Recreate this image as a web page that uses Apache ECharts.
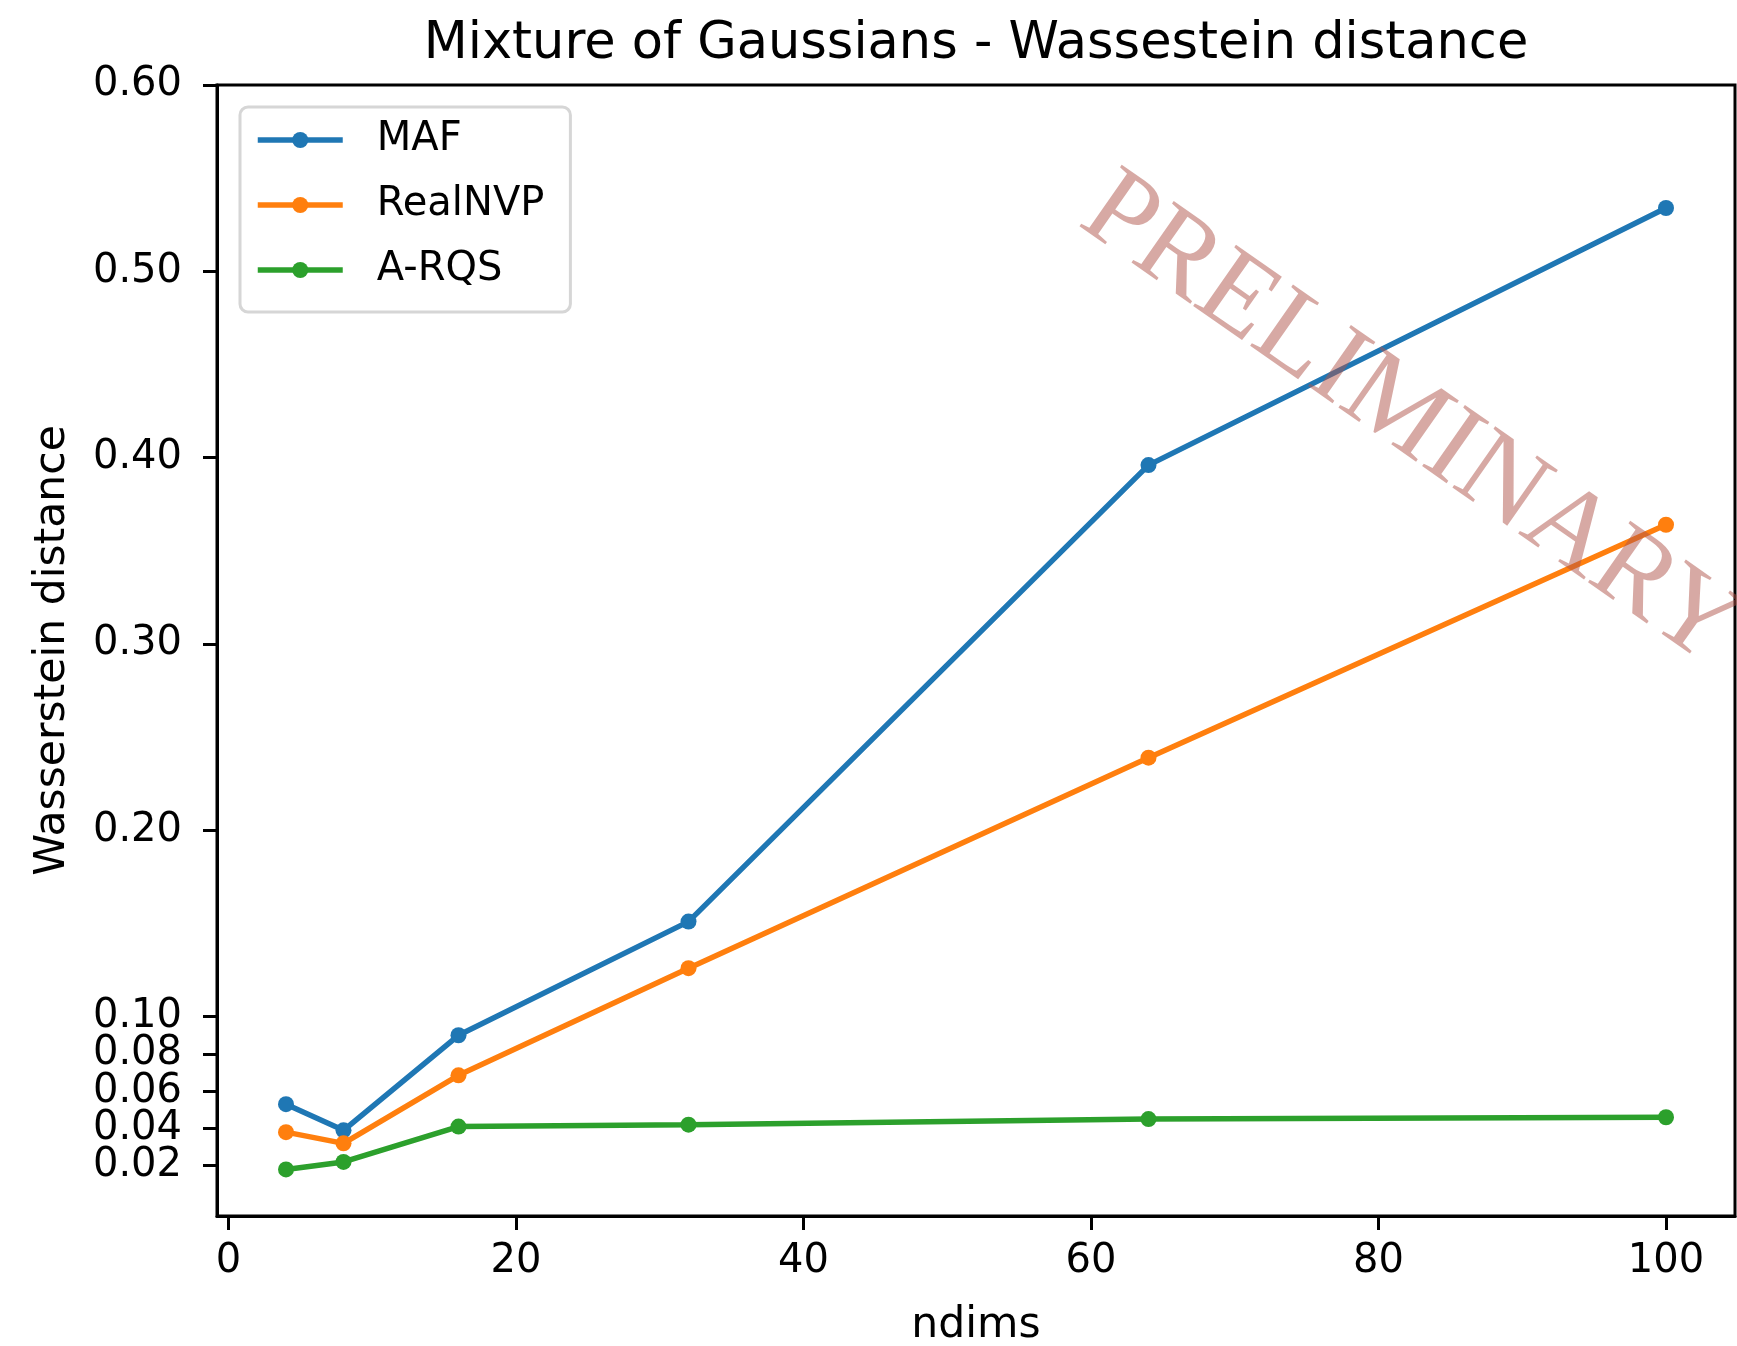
<!DOCTYPE html>
<html>
<head>
<meta charset="utf-8">
<script src="https://cdn.jsdelivr.net/npm/echarts@6/dist/echarts.min.js"></script>
<style>
  html, body { margin: 0; padding: 0; background: #fff; }
  #chart { width: 1737px; height: 1346px; }
</style>
</head>
<body>
<div id="chart"></div>
<script>
// Number of dimensions evaluated
const ndims = [4, 8, 16, 32, 64, 100];

// Wasserstein distance per flow model
const mafValues = [0.053, 0.039, 0.090, 0.151, 0.396, 0.534];
const realNvpValues = [0.038, 0.032, 0.0685, 0.126, 0.239, 0.364];
const arqsValues = [0.018, 0.022, 0.041, 0.042, 0.045, 0.046];

const seriesNames = ['MAF', 'RealNVP', 'A-RQS'];
const seriesColors = ['#1f77b4', '#ff7f0e', '#2ca02c'];

// Tick positions
const xTicks = [0, 20, 40, 60, 80, 100];
const yTicks = [0.02, 0.04, 0.06, 0.08, 0.10, 0.20, 0.30, 0.40, 0.50, 0.60];

const FONT = 'DejaVu Sans';
const Y_MIN = -0.007;
const Y_MAX = 0.6;

function pairs(xs, ys) {
  return xs.map((x, i) => [x, ys[i]]);
}

// The low ticks sit closer together than one label height, so the
// y ticks are split over two stacked axes at the same position to keep
// every label visible.
const yTicksA = yTicks.filter((_, i) => i % 2 === 0);
const yTicksB = yTicks.filter((_, i) => i % 2 === 1);

function yAxisDef(ticks, primary) {
  return {
    type: 'value',
    position: 'left',
    offset: 0,
    min: Y_MIN,
    max: Y_MAX,
    name: primary ? 'Wasserstein distance' : '',
    nameLocation: 'middle',
    nameGap: 143,
    nameRotate: 90,
    nameTextStyle: { fontFamily: FONT, fontSize: 42.5, color: '#000' },
    axisLine: { show: primary, onZero: false, lineStyle: { color: '#000', width: 3 } },
    axisTick: { show: true, inside: false, length: 14, lineStyle: { color: '#000', width: 3 }, customValues: ticks },
    axisLabel: {
      fontFamily: FONT, fontSize: 40, color: '#000', margin: 35,
      customValues: ticks,
      showMinLabel: true,
      showMaxLabel: true,
      hideOverlap: false,
      formatter: v => v.toFixed(2)
    },
    splitLine: { show: false }
  };
}

const chart = echarts.init(document.getElementById('chart'), null, { renderer: 'canvas' });

const allValues = [mafValues, realNvpValues, arqsValues];

const option = {
  animation: false,
  backgroundColor: '#ffffff',
  title: {
    text: 'Mixture of Gaussians - Wassestein distance',
    left: 976,
    textAlign: 'center',
    top: 19,
    padding: 0,
    textStyle: { fontFamily: FONT, fontSize: 51, fontWeight: 'normal', color: '#000' }
  },
  legend: {
    orient: 'vertical',
    left: 240,
    top: 107,
    padding: [10, 26, 19, 15],
    itemWidth: 85,
    itemHeight: 20,
    itemGap: 19,
    backgroundColor: '#ffffff',
    borderColor: '#d6d6d6',
    borderWidth: 3,
    borderRadius: 8,
    lineStyle: { width: 5.5 },
    textStyle: { fontFamily: FONT, fontSize: 40, color: '#000', lineHeight: 46, padding: [0, 0, 0, 29] },
    data: seriesNames
  },
  grid: {
    left: 217,
    right: 2,
    top: 85,
    bottom: 130,
    containLabel: false,
    outerBoundsMode: 'none',
    show: true,
    borderColor: '#000',
    borderWidth: 3,
    backgroundColor: 'transparent'
  },
  xAxis: {
    type: 'value',
    min: -0.8,
    max: 104.8,
    name: 'ndims',
    nameLocation: 'middle',
    nameGap: 88,
    nameTextStyle: { fontFamily: FONT, fontSize: 42.5, color: '#000' },
    axisLine: { show: true, onZero: false, lineStyle: { color: '#000', width: 3 } },
    axisTick: { show: true, inside: false, length: 14, lineStyle: { color: '#000', width: 3 }, customValues: xTicks },
    axisLabel: {
      fontFamily: FONT, fontSize: 40, color: '#000', margin: 26,
      customValues: xTicks,
      formatter: v => String(Math.round(v))
    },
    splitLine: { show: false }
  },
  yAxis: [yAxisDef(yTicksA, true), yAxisDef(yTicksB, false)],
  series: seriesNames.map((name, i) => ({
    name: name,
    type: 'line',
    yAxisIndex: 0,
    data: pairs(ndims, allValues[i]),
    symbol: 'circle',
    symbolSize: 16,
    showSymbol: true,
    color: seriesColors[i],
    lineStyle: { width: 5.5, color: seriesColors[i] },
    itemStyle: { color: seriesColors[i] },
    z: 3 + i
  })),
  graphic: [{
    type: 'text',
    x: 1410,
    y: 421,
    rotation: -35 * Math.PI / 180,
    z: 100,
    silent: true,
    style: {
      text: 'PRELIMINARY',
      font: '114px "Liberation Serif"',
      fill: 'rgba(176, 84, 74, 0.5)',
      align: 'center',
      verticalAlign: 'middle'
    }
  }]
};

chart.setOption(option);
</script>
</body>
</html>
